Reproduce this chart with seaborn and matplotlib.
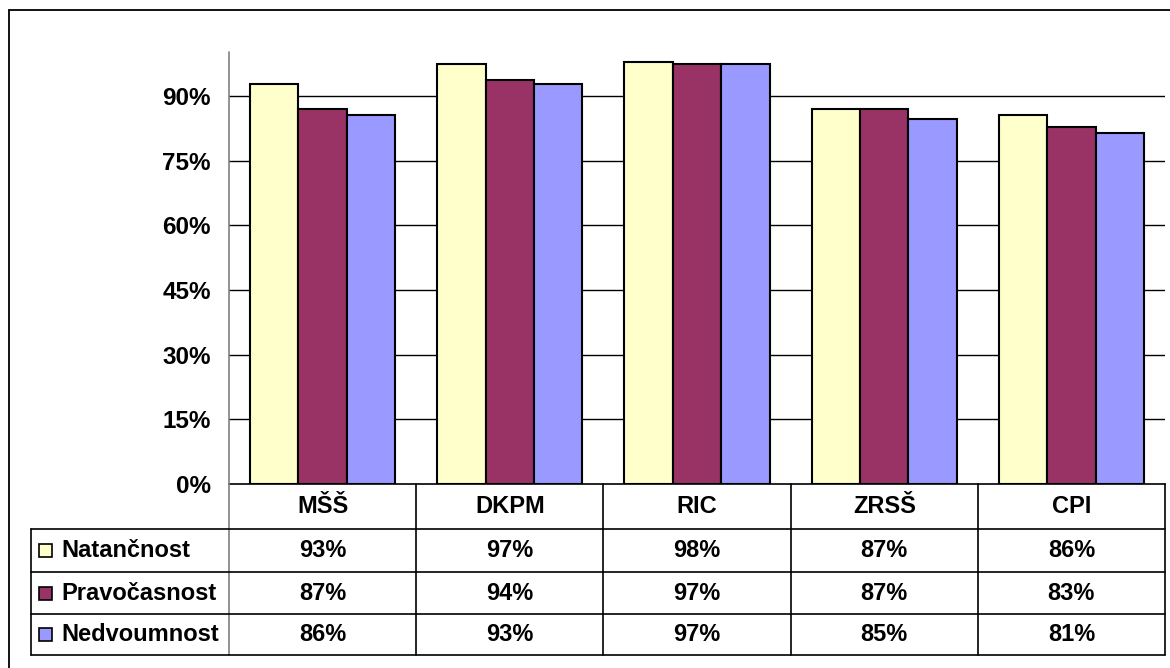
import numpy as np
import pandas as pd
import matplotlib
matplotlib.use("Agg")
import matplotlib.pyplot as plt
from matplotlib.lines import Line2D
from matplotlib.patches import Rectangle
import seaborn as sb

# data (percent)
institutions = ["MŠŠ", "DKPM", "RIC", "ZRSŠ", "CPI"]
series = ["Natančnost", "Pravočasnost", "Nedvoumnost"]
natancnost = [92.7, 97.4, 97.8, 87.1, 85.7]
pravocasnost = [87.1, 93.7, 97.4, 87.1, 82.9]
nedvoumnost = [85.7, 92.8, 97.4, 84.8, 81.4]
y_ticks = [0, 15, 30, 45, 60, 75, 90]
colors = ["#FFFFCC", "#993366", "#9999FF"]

df = pd.DataFrame({
    "Institution": institutions * 3,
    "Series": [series[0]] * 5 + [series[1]] * 5 + [series[2]] * 5,
    "Value": natancnost + pravocasnost + nedvoumnost,
})

sb.set_style("white")
plt.rcParams["font.family"] = ["Liberation Sans", "DejaVu Sans"]
plt.rcParams["font.weight"] = "bold"
plt.rcParams["text.color"] = "black"
plt.rcParams["ytick.color"] = "black"
plt.rcParams["ytick.labelcolor"] = "black"

W, H = 1170, 668
fig = plt.figure(figsize=(W / 100, H / 100), dpi=100)
fig.patch.set_facecolor("white")


def fx(x):
    return x / W


def fy(y):
    return 1 - y / H


# plot area in pixel coords
left, right, top, bottom = 229, 1165, 53, 484
ax = fig.add_axes([fx(left), fy(bottom), fx(right - left), (bottom - top) / H])

sb.barplot(data=df, x="Institution", y="Value", hue="Series", palette=colors,
           saturation=1, width=0.775, edgecolor="black", linewidth=1.5, ax=ax,
           legend=False)
ax.set_xlim(-0.5, len(institutions) - 0.5)
ax.set_ylim(0, 100)
ax.set_yticks(y_ticks)
ax.set_yticklabels([f"{t}%" for t in y_ticks], fontsize=17.5, fontweight="bold")
ax.tick_params(axis="y", length=6, width=1, color="black", pad=7)
ax.set_xticks([])
ax.set_xlabel("")
ax.set_ylabel("")
for t in y_ticks[1:]:
    ax.axhline(t, color="black", lw=1, zorder=0)
for s in ["top", "right"]:
    ax.spines[s].set_visible(False)
ax.spines["left"].set_visible(False)
ax.spines["bottom"].set_color("black")
ax.spines["bottom"].set_linewidth(1.2)


def hline(y, x0, x1, color="black", lw=1.2):
    fig.add_artist(Line2D([fx(x0), fx(x1)], [fy(y), fy(y)], color=color, lw=lw))


def vline(x, y0, y1, color="black", lw=1.2):
    fig.add_artist(Line2D([fx(x), fx(x)], [fy(y0), fy(y1)], color=color, lw=lw))


# outer frame (only top/left visible)
hline(10, 9, 1175, lw=1.3)
vline(9, 10, 675, lw=1.3)

# y axis continues through table
vline(left, 52, 655, color="#808080", lw=1.2)

# data table
row_y = [484, 529, 572, 614, 655]
col_w = (right - left) / len(institutions)
for y in row_y[1:]:
    hline(y, 31, right)
vline(31, 529, 655)
for k in range(1, len(institutions) + 1):
    vline(left + col_w * k, 484, 655)

fs = 17
for i, name in enumerate(institutions):
    cx = left + col_w * (i + 0.5)
    fig.text(fx(cx), fy((row_y[0] + row_y[1]) / 2), name, ha="center", va="center",
             fontsize=fs, fontweight="bold")

values = [natancnost, pravocasnost, nedvoumnost]
for r, (label, vals, c) in enumerate(zip(series, values, colors)):
    cy = (row_y[r + 1] + row_y[r + 2]) / 2
    fig.add_artist(Rectangle((fx(39), fy(cy + 6.5)), fx(13), 13 / H,
                             facecolor=c, edgecolor="black", lw=1.2))
    fig.text(fx(61), fy(cy), label, ha="left", va="center", fontsize=fs, fontweight="bold")
    for i, v in enumerate(vals):
        cx = left + col_w * (i + 0.5)
        fig.text(fx(cx), fy(cy), f"{v:.0f}%", ha="center", va="center",
                 fontsize=fs, fontweight="bold")

fig.savefig("out.png", dpi=100)
